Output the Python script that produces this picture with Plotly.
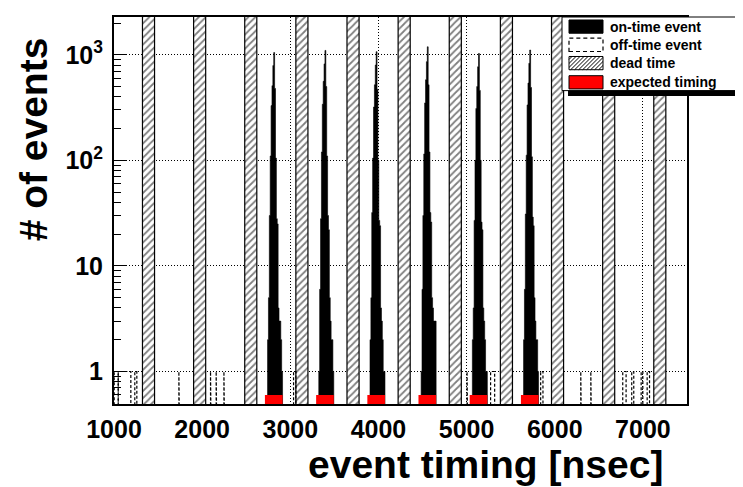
import math
import plotly.graph_objects as go

# ---------------- data ----------------
X_RANGE = [1000, 7500]
Y_RANGE = [0.492, 2280]
X_TICKS = [1000, 2000, 3000, 4000, 5000, 6000, 7000]
X_TICK_TEXT = ["1000", "2000", "3000", "4000", "5000", "6000", "7000"]
Y_TICKS = [1, 10, 100, 1000]
Y_TICK_TEXT = ["1", "10", "10<sup>2</sup>", "10<sup>3</sup>"]

# on-time events: histogram of 10 ns bins around each bunch centre
BUNCH_CENTERS = [2812, 3393, 3974, 4554, 5135, 5716]
BIN_WIDTH = 10
BIN_OFFSET = -70
ON_TIME_COUNTS = [
    [2, 5, 30, 110, 330, 510, 790, 1050, 480, 105, 28, 25, 4, 3, 3, 2, 1],
    [1, 6, 28, 120, 340, 560, 820, 1100, 500, 110, 30, 22, 5, 3, 2, 2, 1],
    [2, 5, 32, 105, 320, 520, 800, 1070, 470, 100, 27, 24, 4, 3, 2, 1, 1],
    [1, 6, 30, 115, 350, 580, 860, 1190, 520, 120, 32, 26, 5, 4, 3, 3, 3],
    [2, 4, 27, 100, 310, 500, 770, 1030, 460, 100, 26, 22, 4, 3, 2, 1, 1],
    [2, 6, 31, 112, 335, 540, 830, 1110, 490, 108, 29, 24, 5, 3, 2, 2, 1],
]

# off-time events: (bin start, bin end) in ns and counts
OFF_TIME_START = [1002, 1048, 1236, 1736, 2095, 2159, 2247, 3037, 5005,
                  5272, 5840, 6295, 6409, 6771, 6873, 6980, 7048]
OFF_TIME_END = [1048, 1191, 1259, 1744, 2103, 2167, 2255, 3063, 5013,
                5318, 5866, 6303, 6417, 6809, 6896, 6999, 7075]
OFF_TIME_COUNTS = [1, 1, 1, 1, 1, 1, 1, 1, 1, 1, 1, 1, 1, 1, 1, 1, 1]

# dead time windows (ns)
DEAD_START = [1323, 1903, 2483, 3063, 3643, 4223, 4803, 5383, 5963, 6543, 7123]
DEAD_END = [1460, 2040, 2620, 3200, 3780, 4360, 4940, 5520, 6100, 6680, 7260]

# expected timing windows (ns)
EXPECTED_START = [2712, 3293, 3874, 4454, 5035, 5616]
EXPECTED_END = [2912, 3493, 4074, 4654, 5235, 5816]
EXPECTED_HEIGHT = 0.6

LEGEND_LABELS = ["on-time event", "off-time event", "dead time", "expected timing"]

Y_FLOOR = 0.2      # below the visible range (bars start at the frame)
Y_CEIL = 1.0e4     # above the visible range (dead time spans full height)

FONT = "Liberation Sans, Arial, Helvetica, sans-serif"

# ---------------- geometry ----------------
W, H = 743, 487
ML, MR, MT, MB = 106, 64, 7, 91
PW, PH = W - ML - MR, H - MT - MB


def px2x(px):
    return (px - ML) / PW


def py2y(py):
    return (MT + PH - py) / PH


def boxes(starts, ends, lows, highs):
    xs, ys = [], []
    for a, b, lo, hi in zip(starts, ends, lows, highs):
        xs += [a, a, b, b, a, None]
        ys += [lo, hi, hi, lo, lo, None]
    return xs, ys


def hist_outline(center, counts):
    xs, ys = [], []
    left = center + BIN_OFFSET
    xs.append(left)
    ys.append(Y_FLOOR)
    for i, c in enumerate(counts):
        e0 = left + i * BIN_WIDTH
        e1 = e0 + BIN_WIDTH
        xs += [e0, e1]
        ys += [c, c]
    xs += [left + len(counts) * BIN_WIDTH, left]
    ys += [Y_FLOOR, Y_FLOOR]
    return xs, ys


fig = go.Figure()

# dead time (hatched)
dx, dy = boxes(DEAD_START, DEAD_END, [Y_FLOOR] * len(DEAD_START), [Y_CEIL] * len(DEAD_START))
fig.add_trace(go.Scatter(
    x=dx, y=dy, mode="lines", fill="toself", fillcolor="white",
    fillpattern=dict(shape="/", fgcolor="black", bgcolor="white", size=5, solidity=0.35),
    line=dict(color="black", width=1.2), hoverinfo="skip", showlegend=False))

# on-time peaks
px_, py_ = [], []
for c, counts in zip(BUNCH_CENTERS, ON_TIME_COUNTS):
    hx, hy = hist_outline(c, counts)
    px_ += hx + [None]
    py_ += hy + [None]
fig.add_trace(go.Scatter(
    x=px_, y=py_, mode="lines", fill="toself", fillcolor="black",
    line=dict(color="black", width=0.6), hoverinfo="skip", showlegend=False))

# off-time events (dashed outline)
ox, oy = [], []
for a, b, c in zip(OFF_TIME_START, OFF_TIME_END, OFF_TIME_COUNTS):
    ox += [a, a, b, b, None]
    oy += [Y_FLOOR, c, c, Y_FLOOR, None]
fig.add_trace(go.Scatter(
    x=ox, y=oy, mode="lines", line=dict(color="black", width=1.2, dash="3px,2px"),
    hoverinfo="skip", showlegend=False))

# expected timing (red)
ex, ey = boxes(EXPECTED_START, EXPECTED_END, [Y_FLOOR] * len(EXPECTED_START),
               [EXPECTED_HEIGHT] * len(EXPECTED_START))
fig.add_trace(go.Scatter(
    x=ex, y=ey, mode="lines", fill="toself", fillcolor="#ff0000",
    line=dict(color="#ff0000", width=0), hoverinfo="skip", showlegend=False))

# ---------------- legend (drawn by hand, ROOT style) ----------------
shapes = []
shapes.append(dict(type="rect", xref="paper", yref="paper", layer="above",
                   x0=px2x(560), x1=px2x(800), y0=py2y(86.5), y1=py2y(12),
                   fillcolor="black", line=dict(width=0)))
shapes.append(dict(type="rect", xref="paper", yref="paper", layer="above",
                   x0=px2x(554), x1=px2x(800), y0=py2y(81), y1=py2y(7),
                   fillcolor="white", line=dict(color="black", width=1)))
sx0, sx1 = 561, 595
rows = [(10, 23.3), (28.3, 41.7), (46.7, 60), (66, 79.3)]
# on-time
shapes.append(dict(type="rect", xref="paper", yref="paper", layer="above",
                   x0=px2x(sx0), x1=px2x(sx1), y0=py2y(rows[0][1]), y1=py2y(rows[0][0]),
                   fillcolor="black", line=dict(color="black", width=1)))
# off-time
shapes.append(dict(type="rect", xref="paper", yref="paper", layer="above",
                   x0=px2x(sx0), x1=px2x(sx1), y0=py2y(rows[1][1]), y1=py2y(rows[1][0]),
                   fillcolor="white", line=dict(color="black", width=1.2, dash="4px,3px")))
# dead time (hatched)
ty0, ty1 = rows[2]
path = ""
k = sx0 + ty0 + 3
while k < sx1 + ty1:
    xa = max(sx0, k - ty1)
    xb = min(sx1, k - ty0)
    if xb > xa:
        path += "M{:.5f},{:.5f} L{:.5f},{:.5f} ".format(
            px2x(xa), py2y(k - xa), px2x(xb), py2y(k - xb))
    k += 4
shapes.append(dict(type="path", xref="paper", yref="paper", layer="above",
                   path=path.strip(), line=dict(color="black", width=1)))
shapes.append(dict(type="rect", xref="paper", yref="paper", layer="above",
                   x0=px2x(sx0), x1=px2x(sx1), y0=py2y(ty1), y1=py2y(ty0),
                   fillcolor="rgba(0,0,0,0)", line=dict(color="black", width=1)))
# expected timing
shapes.append(dict(type="rect", xref="paper", yref="paper", layer="above",
                   x0=px2x(sx0), x1=px2x(sx1), y0=py2y(rows[3][1]), y1=py2y(rows[3][0]),
                   fillcolor="#ff0000", line=dict(color="black", width=1)))

annotations = []
for label, (r0, r1) in zip(LEGEND_LABELS, rows):
    annotations.append(dict(
        text=label, xref="paper", yref="paper", x=px2x(600), y=py2y((r0 + r1) / 2),
        xanchor="left", yanchor="middle", showarrow=False,
        font=dict(family=FONT, size=14, color="black", weight="bold")))

# axis titles
annotations.append(dict(
    text="event timing [nsec]", xref="paper", yref="paper",
    x=px2x(657), y=py2y(457), xanchor="right", yanchor="middle", showarrow=False,
    font=dict(family=FONT, size=39, color="black", weight="bold")))
annotations.append(dict(
    text="# of events", xref="paper", yref="paper", textangle=-90,
    x=px2x(25), y=py2y(130), xanchor="center", yanchor="middle", showarrow=False,
    font=dict(family=FONT, size=39, color="black", weight="bold")))

minor_vals = []
for e in range(-1, 4):
    for m in range(2, 10):
        v = m * 10 ** e
        if Y_RANGE[0] <= v <= Y_RANGE[1]:
            minor_vals.append(v)

fig.update_layout(
    width=W, height=H,
    margin=dict(l=ML, r=MR, t=MT, b=MB, pad=0),
    paper_bgcolor="white", plot_bgcolor="white",
    shapes=shapes, annotations=annotations,
    showlegend=False,
    xaxis=dict(
        range=X_RANGE, tickmode="array", tickvals=X_TICKS, ticktext=X_TICK_TEXT,
        showgrid=True, gridcolor="black", gridwidth=1, griddash="1px,2px",
        zeroline=False, showline=True, linecolor="black", linewidth=2, mirror=True,
        ticks="", tickfont=dict(family=FONT, size=25, color="black", weight="bold"),
        ticklabelstandoff=2,
    ),
    yaxis=dict(
        type="log", range=[math.log10(Y_RANGE[0]), math.log10(Y_RANGE[1])],
        tickmode="array", tickvals=Y_TICKS, ticktext=Y_TICK_TEXT,
        showgrid=True, gridcolor="black", gridwidth=1, griddash="1px,2px",
        zeroline=False, showline=True, linecolor="black", linewidth=2, mirror=True,
        ticks="inside", ticklen=12, tickwidth=1, tickcolor="black",
        minor=dict(tickmode="array", tickvals=minor_vals, ticks="inside", ticklen=7,
                   tickwidth=1, tickcolor="black", showgrid=False),
        tickfont=dict(family=FONT, size=25, color="black", weight="bold"),
        ticklabelstandoff=4,
    ),
)

fig.write_html("out.html")
